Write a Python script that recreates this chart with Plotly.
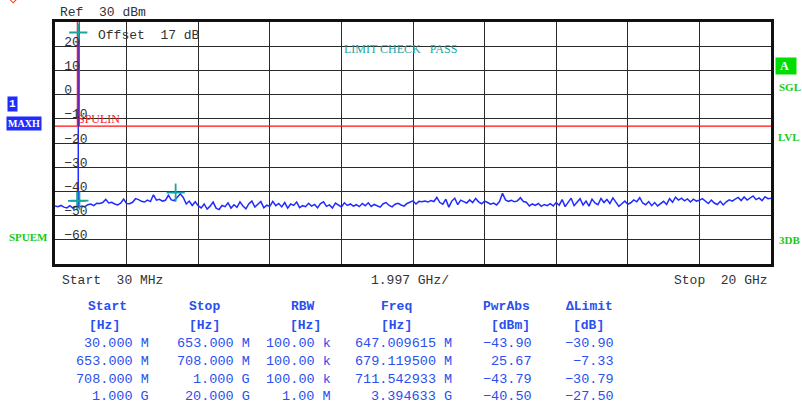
import numpy as np
import plotly.graph_objects as go

# ---------------- data ----------------
start_mhz = 30.0
stop_mhz = 20000.0
span_div_mhz = 1997.0

trace_level_dbm = [
    -46.0, -46.3, -45.8, -46.5, -46.8, -45.9, -46.9, -46.2, -46.5,
    -46.0, -46.3, -45.5, -45.2, -45.9, -44.9,
    -45.0, -44.6, -43.3, -44.8, -44.5, -45.2,
    -45.6, -44.9, -43.2, -45.0, -45.1, -44.5,
    -43.0, -43.4, -44.1, -44.4, -43.6, -44.2,
    -41.4, -43.6, -43.3, -44.0, -43.7, -41.6,
    -43.5, -43.8, -42.6, -41.0, -42.5, -45.2,
    -44.0, -45.8, -44.3, -45.9,
    -46.8, -45.2, -47.3, -46.1, -44.4, -46.9, -47.5, -45.8, -46.3, -44.7,
    -46.9, -45.5, -46.6, -44.3, -46.0, -47.2, -45.1, -44.0, -46.5, -45.3,
    -44.2, -46.8, -45.7, -46.2, -44.1, -45.9, -45.0, -46.4, -44.6, -46.9,
    -45.2, -45.8, -44.4, -46.7, -45.9, -46.3, -44.9, -46.1, -45.4, -46.8,
    -45.0, -44.3, -46.2, -45.6, -46.9, -44.8, -45.5, -46.4, -44.7,
    -45.8, -45.2, -46.1, -45.5, -46.3, -45.0, -45.9, -44.7, -46.2, -45.4,
    -45.9, -46.5, -45.1, -44.6, -45.8, -46.4, -45.3, -44.9, -45.6, -46.1,
    -45.0, -44.5, -43.9, -45.2, -44.1, -44.3, -44.0, -44.4, -43.8, -44.2,
    -42.5, -44.6, -45.3, -43.2, -46.5, -44.0, -42.8, -45.5, -43.6, -44.2,
    -44.8, -43.5, -44.6, -42.9, -44.3, -45.1, -44.0, -44.6,
    -45.3, -44.8, -45.6, -44.2, -40.8, -43.5, -44.1, -43.7, -44.3, -43.9,
    -42.6, -44.2, -44.5, -46.0, -45.2, -45.8, -45.0, -46.2, -45.4, -45.9,
    -45.1, -46.0, -44.6, -45.7, -43.4, -46.3, -44.5, -42.8, -45.9, -44.2,
    -43.0, -45.6, -44.0, -46.1, -43.2, -44.8, -45.5, -42.9, -44.6, -43.3,
    -45.0, -42.7, -44.4, -46.2, -45.1, -44.0, -45.3, -44.7,
    -43.5, -44.3, -42.6, -44.8, -45.5, -44.2, -45.9, -44.6, -46.0, -45.2,
    -44.1, -45.4, -43.0, -44.5, -42.4, -43.6, -42.8, -43.9, -43.1, -44.4,
    -43.2, -44.0, -43.7, -43.0, -44.2, -45.0, -43.6, -44.8, -45.4, -44.1,
    -45.6, -44.3, -43.5, -44.0, -43.2, -42.5, -43.8, -42.3, -43.6, -42.9,
    -41.9, -43.4, -42.7, -43.8, -42.2, -43.0, -42.8,
]
trace_freq_mhz = np.linspace(start_mhz, stop_mhz, len(trace_level_dbm))

carrier_freq_mhz = [675.0, 679.1195, 683.0]
carrier_level_dbm = [-46.2, 25.67, -46.4]

limit_freq_mhz = [30, 653, 653, 708, 708, 20000]
limit_level_dbm = [-13, -13, 33, 33, -13, -13]

marker_freq_mhz = [647.009615, 679.1195, 711.542933, 3394.633]
marker_level_dbm = [-43.90, 25.67, -43.79, -40.50]

y_tick_vals = [20, 10, 0, -10, -20, -30, -40, -50, -60]
y_tick_text = ["20", "10", "0", "\u221210", "\u221220", "\u221230", "\u221240", "\u221250", "\u221260"]

tbl_start = ["30.000 M", "653.000 M", "708.000 M", "1.000 G"]
tbl_stop = ["653.000 M", "708.000 M", "1.000 G", "20.000 G"]
tbl_rbw = ["100.00 k", "100.00 k", "100.00 k", "1.00 M"]
tbl_freq = ["647.009615 M", "679.119500 M", "711.542933 M", "3.394633 G"]
tbl_pwr = ["\u221243.90", "25.67", "\u221243.79", "\u221240.50"]
tbl_dlim = ["\u221230.90", "\u22127.33", "\u221230.79", "\u221227.50"]
tbl_headers = ["Start", "Stop", "RBW", "Freq", "PwrAbs", "\u0394Limit"]
tbl_units = ["[Hz]", "[Hz]", "[Hz]", "[Hz]", "[dBm]", "[dB]"]

# ---------------- figure ----------------
W, H = 802, 410
L, R, T, B = 55, 771, 21.5, 264.5

def px(x, y):
    return (x - L) / (R - L), (B - y) / (B - T)

BLUE = "#1f2bff"
TEAL = "#1aa3a3"
GREEN = "#19c919"
TBLUE = "#2a4ff0"
MONO = "Liberation Mono, DejaVu Sans Mono, monospace"
SERIF = "Liberation Serif, serif"

fig = go.Figure()
fig.add_trace(go.Scatter(x=trace_freq_mhz, y=trace_level_dbm, mode="lines",
                         line=dict(color=BLUE, width=1.5), hoverinfo="skip"))
fig.add_trace(go.Scatter(x=carrier_freq_mhz, y=carrier_level_dbm, mode="lines",
                         line=dict(color=BLUE, width=1.3), hoverinfo="skip"))
fig.add_trace(go.Scatter(x=limit_freq_mhz, y=limit_level_dbm, mode="lines",
                         line=dict(color="#ff1010", width=1.2), hoverinfo="skip"))
fig.add_trace(go.Scatter(x=marker_freq_mhz, y=marker_level_dbm, mode="markers",
                         marker=dict(symbol="cross-thin", size=13,
                                     line=dict(color=TEAL, width=1.8)),
                         hoverinfo="skip"))

ann = []
def text(x, y, s, color="#333", size=13, xanchor="left", bold=False, family=MONO, bg=None):
    xp, yp = px(x, y)
    if bold:
        s = "<b>" + s + "</b>"
    d = dict(x=xp, y=yp, xref="paper", yref="paper", text=s, showarrow=False,
             xanchor=xanchor, yanchor="middle",
             font=dict(family=family, size=size, color=color))
    if bg:
        d.update(bgcolor=bg, borderpad=1)
    ann.append(d)

text(58, 12, "Ref  30 dBm", size=13)
text(96, 35, "Offset  17 dB", size=13)
text(342, 49, "LIMIT CHECK   PASS", color=TEAL, size=12, family=SERIF)
text(76, 119, "SPULIN", color="#ff2020", size=12, family=SERIF)
text(7, 104, "1", color="white", size=11, bg=BLUE, bold=True)
text(6, 123, "MAXH", color="white", size=10, bg=BLUE, bold=True, family=SERIF)
text(7, 237, "SPUEM", color=GREEN, size=11, bold=True, family=SERIF)
text(775, 66, "\u00a0A\u00a0\u00a0", color="white", size=12, bg="#00dd00", bold=True, family=SERIF)
text(777, 87, "SGL", color=GREEN, size=11, bold=True, family=SERIF)
text(776, 137, "LVL", color=GREEN, size=11, bold=True, family=SERIF)
text(777, 240, "3DB", color=GREEN, size=11, bold=True, family=SERIF)
text(13, -2, "\u25c7", color="#ff2020", size=14, xanchor="center")

text(60, 281, "Start  30 MHz", size=13)
text(410, 281, "1.997 GHz/", size=13, xanchor="center")
text(770, 281, "Stop  20 GHz", size=13, xanchor="right")

hdr_cx = [107, 204, 303, 396, 507, 589]
unit_cx = [104, 204, 305, 396, 510, 588]
col_right = [151, 252, 333, 454, 534, 616]
for cx, h in zip(hdr_cx, tbl_headers):
    text(cx, 307, h, color=TBLUE, size=13, xanchor="center", bold=True)
for cx, u in zip(unit_cx, tbl_units):
    text(cx, 326, u, color=TBLUE, size=13, xanchor="center", bold=True)
row_y = [344, 362, 380, 398]
cols = [tbl_start, tbl_stop, tbl_rbw, tbl_freq, tbl_pwr, tbl_dlim]
for xr, col in zip(col_right, cols):
    for yy, v in zip(row_y, col):
        text(xr, yy, v, color=TBLUE, size=13.5, xanchor="right")

x_grid = [start_mhz + span_div_mhz * k for k in range(1, 10)]

fig.update_layout(
    width=W, height=H,
    margin=dict(l=L, r=W - R, t=T, b=H - B),
    paper_bgcolor="white", plot_bgcolor="white",
    showlegend=False,
    annotations=ann,
    xaxis=dict(range=[start_mhz, stop_mhz], tickvals=x_grid, showticklabels=False,
               ticks="", showgrid=True, gridcolor="#2a2a2a", gridwidth=1.4,
               zeroline=False, showline=True, mirror=True, linecolor="#111",
               linewidth=2.5, fixedrange=True),
    yaxis=dict(range=[-70, 30], tickvals=y_tick_vals, ticktext=y_tick_text,
               ticklabelposition="inside", ticklabelstandoff=9, ticklabelshift=-5,
               ticks="", showgrid=True, gridcolor="#2a2a2a", gridwidth=1.4,
               zeroline=False, showline=True, mirror=True, linecolor="#111",
               linewidth=2.5, fixedrange=True,
               tickfont=dict(family=MONO, size=13, color="#333")),
)

fig.write_html("out.html", config={"displayModeBar": False},
               post_script="document.body.style.margin='0';document.body.style.padding='0';")
